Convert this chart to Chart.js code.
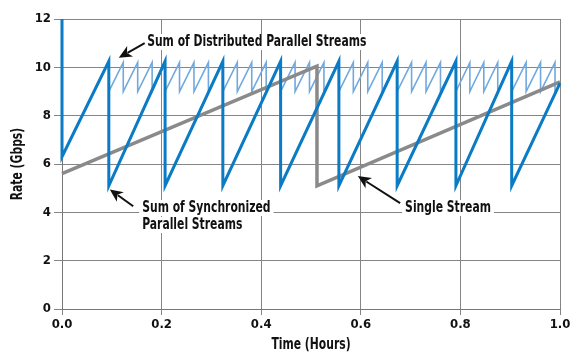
<!DOCTYPE html>
<html>
<head>
<meta charset="utf-8">
<script src="https://cdn.jsdelivr.net/npm/chart.js@4.4.1/dist/chart.umd.min.js"></script>
<style>
  html, body { margin: 0; padding: 0; background: #fff; }
  #wrap { width: 578px; height: 364px; }
</style>
</head>
<body>
<div id="wrap"><canvas id="chart" width="578" height="364"></canvas></div>
<script>
// data (time in hours, rate in Gbps)
const syncTime = [0, 0, 0.094, 0.094, 0.207, 0.207, 0.323, 0.323, 0.439, 0.439, 0.556, 0.556, 0.673, 0.673, 0.791, 0.791, 0.903, 0.903, 1.0];
const syncRate = [12, 6.3, 10.25, 5.1, 10.25, 5.1, 10.25, 5.1, 10.25, 5.1, 10.25, 5.1, 10.25, 5.1, 10.25, 5.1, 10.25, 5.1, 9.35];

const singleTime = [0, 0.512, 0.512, 1.0];
const singleRate = [5.6, 10.05, 5.1, 9.4];

const distTime = [0.094, 0.094, 0.123, 0.123, 0.152, 0.152, 0.181, 0.181, 0.207, 0.207, 0.236, 0.236,
  0.265, 0.265, 0.294, 0.294, 0.323, 0.323, 0.352, 0.352, 0.381, 0.381, 0.410, 0.410, 0.439, 0.439,
  0.468, 0.468, 0.497, 0.497, 0.526, 0.526, 0.556, 0.556, 0.585, 0.585, 0.614, 0.614, 0.643, 0.643,
  0.673, 0.673, 0.702, 0.702, 0.731, 0.731, 0.760, 0.760, 0.791, 0.791, 0.819, 0.819, 0.847, 0.847,
  0.875, 0.875, 0.903, 0.903, 0.932, 0.932, 0.961, 0.961, 0.990, 0.990, 1.0];
const distRate = [10.2, 9.0, 10.2, 9.0, 10.2, 9.0, 10.2, 9.0, 10.2, 9.0, 10.2, 9.0,
  10.2, 9.0, 10.2, 9.0, 10.2, 9.0, 10.2, 9.0, 10.2, 9.0, 10.2, 9.0, 10.2, 9.0,
  10.2, 9.0, 10.2, 9.0, 10.2, 9.0, 10.2, 9.0, 10.2, 9.0, 10.2, 9.0, 10.2, 9.0,
  10.2, 9.0, 10.2, 9.0, 10.2, 9.0, 10.2, 9.0, 10.2, 9.0, 10.2, 9.0, 10.2, 9.0,
  10.2, 9.0, 10.2, 9.0, 10.2, 9.0, 10.2, 9.0, 10.2, 9.0, 9.3];

const xTicks = [0, 0.2, 0.4, 0.6, 0.8, 1.0];
const yTicks = [0, 2, 4, 6, 8, 10, 12];
const xTitle = 'Time (Hours)';
const yTitle = 'Rate (Gbps)';

// callouts, anchored in data units
const notes = [
  { lines: ['Sum of Distributed Parallel Streams'], t: 0.171, r: 11.05, tip: [0.114, 10.4], tail: [0.166, 11.0] },
  { lines: ['Sum of Synchronized', 'Parallel Streams'], t: 0.161, r: 4.18, tip: [0.096, 4.95], tail: [0.143, 4.25] },
  { lines: ['Single Stream'], t: 0.689, r: 4.18, tip: [0.594, 5.5], tail: [0.679, 4.38] }
];

const FONT = '"Liberation Sans Narrow", "DejaVu Sans Condensed", "Arial Narrow", sans-serif';
const SQUEEZE = 0.8;   // the original uses a condensed face
Chart.defaults.font.family = FONT;

function pts(xs, ys) { return xs.map((x, i) => ({ x: x, y: ys[i] })); }

// text squeezed horizontally, anchored at its left / centre
function narrowText(c, s, x, y, align, rot) {
  c.save();
  c.translate(x, y);
  if (rot) c.rotate(rot);
  c.scale(SQUEEZE, 1);
  c.textAlign = align;
  c.fillText(s, 0, 0);
  c.restore();
}

const calloutPlugin = {
  id: 'callouts',
  afterDatasetsDraw(chart) {
    const c = chart.ctx, xs = chart.scales.x, ys = chart.scales.y, ca = chart.chartArea;
    c.save();
    c.font = 'bold 15px ' + FONT;
    c.textBaseline = 'middle';
    notes.forEach(n => {
      const px = xs.getPixelForValue(n.t), py = ys.getPixelForValue(n.r);
      n.lines.forEach((s, i) => {
        const w = c.measureText(s).width * SQUEEZE;
        c.fillStyle = '#fff';
        c.fillRect(px - 3, py + i * 17 - 8, w + 6, 16);
        c.fillStyle = '#111';
        narrowText(c, s, px, py + i * 17, 'left');
      });
      // arrow
      const x0 = xs.getPixelForValue(n.tail[0]), y0 = ys.getPixelForValue(n.tail[1]);
      const x1 = xs.getPixelForValue(n.tip[0]), y1 = ys.getPixelForValue(n.tip[1]);
      const a = Math.atan2(y1 - y0, x1 - x0);
      const hl = 13, hw = 6;
      const bx = x1 - hl * Math.cos(a), by = y1 - hl * Math.sin(a);
      c.strokeStyle = '#111';
      c.lineWidth = 2;
      c.beginPath(); c.moveTo(x0, y0); c.lineTo(bx + 3 * Math.cos(a), by + 3 * Math.sin(a)); c.stroke();
      c.fillStyle = '#111';
      c.beginPath();
      c.moveTo(x1, y1);
      c.lineTo(bx + hw * Math.sin(a), by - hw * Math.cos(a));
      c.lineTo(x1 - 0.72 * hl * Math.cos(a), y1 - 0.72 * hl * Math.sin(a));
      c.lineTo(bx - hw * Math.sin(a), by + hw * Math.cos(a));
      c.closePath(); c.fill();
    });
    // axis titles
    c.font = 'bold 15px ' + FONT;
    c.fillStyle = '#111';
    narrowText(c, xTitle, (ca.left + ca.right) / 2, 345, 'center');
    narrowText(c, yTitle, 18, (ca.top + ca.bottom) / 2, 'center', -Math.PI / 2);
    c.restore();
  }
};

new Chart(document.getElementById('chart').getContext('2d'), {
  type: 'scatter',
  data: {
    datasets: [
      { label: 'Sum of Synchronized Parallel Streams', data: pts(syncTime, syncRate), showLine: true,
        borderColor: '#0a7bc4', borderWidth: 3, pointRadius: 0, order: 0, clip: false },
      { label: 'Single Stream', data: pts(singleTime, singleRate), showLine: true,
        borderColor: '#8a8a8a', borderWidth: 3.5, pointRadius: 0, order: 1, clip: false },
      { label: 'Sum of Distributed Parallel Streams', data: pts(distTime, distRate), showLine: true,
        borderColor: '#71a9de', borderWidth: 1.6, pointRadius: 0, order: 2, clip: false }
    ]
  },
  options: {
    responsive: false,
    animation: false,
    devicePixelRatio: 1,
    layout: { padding: { top: 19, right: 18, left: 0, bottom: 0 } },
    plugins: { legend: { display: false }, tooltip: { enabled: false } },
    scales: {
      x: {
        type: 'linear', min: 0, max: 1,
        afterBuildTicks: s => { s.ticks = xTicks.map(v => ({ value: v })); },
        afterFit: s => { s.height = 55; },
        ticks: { callback: v => v.toFixed(1), color: '#111', font: { size: 13, weight: 'bold' }, padding: 2, maxRotation: 0 },
        grid: { color: '#858585', lineWidth: 1, tickLength: 6 },
        border: { color: '#777' }
      },
      y: {
        min: 0, max: 12,
        afterBuildTicks: s => { s.ticks = yTicks.map(v => ({ value: v })); },
        afterFit: s => { s.width = 62; },
        ticks: { color: '#111', font: { size: 13, weight: 'bold' }, padding: 3 },
        grid: { color: '#858585', lineWidth: 1, tickLength: 8 },
        border: { color: '#777' }
      }
    }
  },
  plugins: [calloutPlugin]
});
</script>
</body>
</html>
